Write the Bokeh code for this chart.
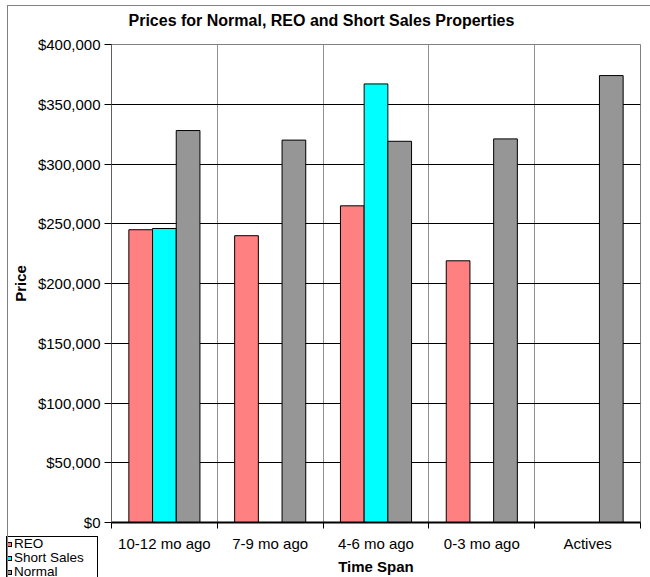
from bokeh.plotting import figure
from bokeh.models import FixedTicker, NumeralTickFormatter, ColumnDataSource, Range1d, Div, Title
from bokeh.layouts import column
from bokeh.transform import dodge
from bokeh.embed import file_html
from bokeh.resources import INLINE

categories = ["10-12 mo ago", "7-9 mo ago", "4-6 mo ago", "0-3 mo ago", "Actives"]
reo = [245000, 240000, 265000, 219000, None]
short_sales = [246000, None, 367000, None, None]
normal = [328000, 320000, 319000, 321000, 374000]
series_names = ["REO", "Short Sales", "Normal"]
colors = ["#FF8080", "#00FFFF", "#969696"]
y_ticks = [0, 50000, 100000, 150000, 200000, 250000, 300000, 350000, 400000]
title_text = "Prices for Normal, REO and Short  Sales Properties"

FONT = "Liberation Sans"

p = figure(width=650, height=577, output_backend="svg", toolbar_location=None, title=None,
           x_range=Range1d(0, len(categories)), y_range=Range1d(0, 400000),
           min_border_left=111, min_border_right=10, min_border_top=44, min_border_bottom=53,
           sizing_mode="fixed", align="start")

# spacer panel between the title and the plot area (closest to the frame)
p.add_layout(Title(text=" ", text_font=FONT, text_font_size="10px", standoff=3), "above")
# chart title
p.add_layout(Title(text=title_text, text_font=FONT, text_font_size="16px", text_font_style="bold",
                   text_color="#000000", align="left", offset=17, standoff=0), "above")

centers = [i + 0.5 for i in range(len(categories))]
bw = 0.224
offsets = [-bw, 0.0, bw]
for name, vals, col, off in zip(series_names, [reo, short_sales, normal], colors, offsets):
    xs = [c for c, v in zip(centers, vals) if v is not None]
    ys = [v for v in vals if v is not None]
    src = ColumnDataSource(dict(x=xs, top=ys))
    p.vbar(x=dodge("x", off), top="top", bottom=0, width=bw, source=src,
           fill_color=col, line_color="#000000", line_width=1)

# axes
p.xaxis.ticker = FixedTicker(ticks=centers, minor_ticks=list(range(len(categories) + 1)))
p.xaxis.major_label_overrides = {c: lab for c, lab in zip(centers, categories)}
p.xaxis.major_tick_in = 0
p.xaxis.major_tick_out = 0
p.xaxis.minor_tick_in = 0
p.xaxis.minor_tick_out = 6
p.xaxis.minor_tick_line_color = "#000000"
p.xaxis.axis_line_color = "#000000"
p.xaxis.axis_line_width = 2
p.xaxis.major_label_standoff = 6
p.xaxis.major_label_text_font = FONT
p.xaxis.major_label_text_font_size = "15px"
p.xaxis.major_label_text_color = "#000000"
p.xaxis.axis_label = "Time Span"
p.xaxis.axis_label_text_font = FONT
p.xaxis.axis_label_text_font_size = "15px"
p.xaxis.axis_label_text_font_style = "bold"
p.xaxis.axis_label_text_color = "#000000"
p.xaxis.axis_label_standoff = 3

p.yaxis.ticker = FixedTicker(ticks=y_ticks)
p.yaxis.formatter = NumeralTickFormatter(format="$0,0")
p.yaxis.major_tick_in = 0
p.yaxis.major_tick_out = 7
p.yaxis.minor_tick_line_color = None
p.yaxis.major_tick_line_color = "#000000"
p.yaxis.axis_line_color = "#606060"
p.yaxis.major_label_standoff = 4
p.yaxis.major_label_text_font = FONT
p.yaxis.major_label_text_font_size = "15px"
p.yaxis.major_label_text_color = "#000000"
p.yaxis.axis_label = "Price"
p.yaxis.axis_label_text_font = FONT
p.yaxis.axis_label_text_font_size = "15px"
p.yaxis.axis_label_text_font_style = "bold"
p.yaxis.axis_label_text_color = "#000000"
p.yaxis.axis_label_standoff = 6

p.xgrid.ticker = FixedTicker(ticks=list(range(1, len(categories))))
p.xgrid.grid_line_color = "#909090"
p.ygrid.ticker = FixedTicker(ticks=y_ticks)
p.ygrid.grid_line_color = "#000000"
p.outline_line_color = "#808080"
p.background_fill_color = "#FFFFFF"

# legend box at the bottom-left, outside the plot area (as in the reference)
rows_html = "".join(
    f'<div style="height:14px;display:flex;align-items:center;white-space:nowrap;">'
    f'<span style="display:inline-block;width:5px;height:5px;border:1px solid #000;'
    f'background:{c};margin-right:2px;flex:none;"></span>{n}</div>'
    for n, c in zip(series_names, colors))
legend_html = (
    '<div style="width:92px;height:41px;box-sizing:border-box;border:1px solid #000;'
    'border-bottom:none;background:#fff;color:#000;font-family:\'Liberation Sans\',Arial,sans-serif;'
    'font-size:13.5px;line-height:14px;overflow:hidden;padding-top:0px;">' + rows_html + '</div>')
LW, LH = 92, 41
legend_box = Div(text=legend_html, width=LW, height=LH, sizing_mode="fixed", align="start",
                 styles={"overflow": "hidden"})
legend_box.margin = (-LH, 0, 0, 6)

# thin grey frame of the chart area (top and left edges)
border = Div(text="", width=643, height=572, sizing_mode="fixed", align="start",
             styles={"border-left": "1px solid #808080", "border-top": "1px solid #808080",
                     "box-sizing": "border-box", "pointer-events": "none"})
border.margin = (-572, 0, 0, 7)

layout = column(p, legend_box, border, spacing=0, sizing_mode="fixed", width=650, height=577)
layout.margin = 0
p.margin = 0

open("out.html", "w").write(file_html(layout, INLINE))
